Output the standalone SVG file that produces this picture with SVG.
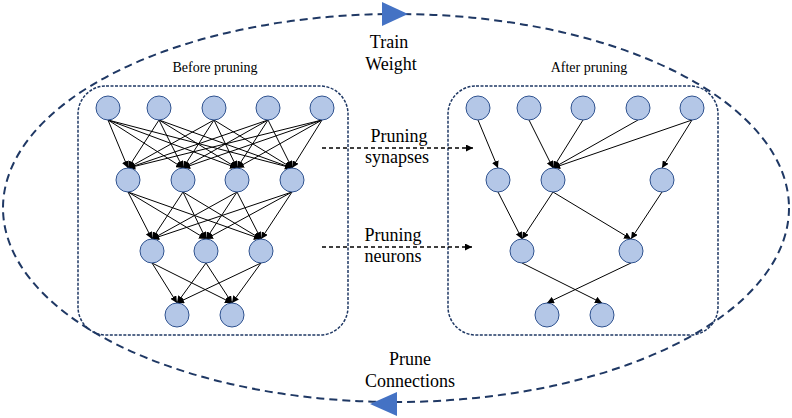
<svg xmlns="http://www.w3.org/2000/svg" width="792" height="418" viewBox="0 0 792 418">
  <style>
    .cycle { fill: none; stroke: #1F3864; stroke-width: 2; stroke-dasharray: 8 5; }
    .box { fill: none; stroke: #1F3864; stroke-width: 1.5; stroke-dasharray: 3 1.5; }
    .node { fill: #B4C7E7; stroke: #2F528F; stroke-width: 1; }
    .edge { stroke: #000; stroke-width: 1; marker-end: url(#arrow); }
    .step { stroke: #000; stroke-width: 1.3; stroke-dasharray: 4 3; marker-end: url(#arrow); }
    .head { fill: #4472C4; }
    text { font-family: "Liberation Serif", "Times New Roman", serif; fill: #000; text-anchor: middle; }
    .big { font-size: 18px; }
    .small { font-size: 14px; }
  </style>
  <defs>
    <marker id="arrow" viewBox="0 0 10 10" refX="10" refY="5" markerWidth="7" markerHeight="7" markerUnits="userSpaceOnUse" orient="auto">
      <path d="M0,0 L10,5 L0,10 z" fill="#000"/>
    </marker>
  </defs>
  <rect width="792" height="418" fill="#fff"/>

  <!-- train / prune cycle -->
  <g id="cycle">
    <ellipse class="cycle" cx="396" cy="208" rx="393" ry="194"/>
    <polygon class="head" points="382,2 408,14 382,26"/>
    <polygon class="head" points="397,392 370,404 397,416"/>
  </g>

  <g id="label-train">
    <text class="big" x="389" y="48">Train</text>
    <text class="big" x="391" y="70">Weight</text>
  </g>
  <g id="label-prune">
    <text class="big" x="410" y="365">Prune</text>
    <text class="big" x="410" y="387">Connections</text>
  </g>

  <!-- network frames -->
  <g id="before">
    <rect class="box" x="78" y="86" width="270" height="249" rx="28"/>
    <text class="small" x="215" y="72">Before pruning</text>
  </g>
  <g id="after">
    <rect class="box" x="448" y="86" width="270" height="249" rx="28"/>
    <text class="small" x="589" y="72">After pruning</text>
  </g>

  <!-- connectors -->
  <g id="connectors">
    <!-- dense network: layer 1 -> layer 2 -->
    <line class="edge" x1="108" y1="120" x2="128" y2="168"/>
    <line class="edge" x1="108" y1="120" x2="183" y2="168"/>
    <line class="edge" x1="108" y1="120" x2="237" y2="168"/>
    <line class="edge" x1="108" y1="120" x2="292" y2="168"/>
    <line class="edge" x1="159" y1="120" x2="128" y2="168"/>
    <line class="edge" x1="159" y1="120" x2="183" y2="168"/>
    <line class="edge" x1="159" y1="120" x2="237" y2="168"/>
    <line class="edge" x1="159" y1="120" x2="292" y2="168"/>
    <line class="edge" x1="214" y1="120" x2="128" y2="168"/>
    <line class="edge" x1="214" y1="120" x2="183" y2="168"/>
    <line class="edge" x1="214" y1="120" x2="237" y2="168"/>
    <line class="edge" x1="214" y1="120" x2="292" y2="168"/>
    <line class="edge" x1="268" y1="120" x2="128" y2="168"/>
    <line class="edge" x1="268" y1="120" x2="183" y2="168"/>
    <line class="edge" x1="268" y1="120" x2="237" y2="168"/>
    <line class="edge" x1="268" y1="120" x2="292" y2="168"/>
    <line class="edge" x1="322" y1="120" x2="128" y2="168"/>
    <line class="edge" x1="322" y1="120" x2="183" y2="168"/>
    <line class="edge" x1="322" y1="120" x2="237" y2="168"/>
    <line class="edge" x1="322" y1="120" x2="292" y2="168"/>
    <!-- dense network: layer 2 -> layer 3 -->
    <line class="edge" x1="128" y1="192" x2="152" y2="239"/>
    <line class="edge" x1="128" y1="192" x2="206" y2="239"/>
    <line class="edge" x1="128" y1="192" x2="261" y2="239"/>
    <line class="edge" x1="183" y1="192" x2="152" y2="239"/>
    <line class="edge" x1="183" y1="192" x2="206" y2="239"/>
    <line class="edge" x1="183" y1="192" x2="261" y2="239"/>
    <line class="edge" x1="237" y1="192" x2="152" y2="239"/>
    <line class="edge" x1="237" y1="192" x2="206" y2="239"/>
    <line class="edge" x1="237" y1="192" x2="261" y2="239"/>
    <line class="edge" x1="292" y1="192" x2="152" y2="239"/>
    <line class="edge" x1="292" y1="192" x2="206" y2="239"/>
    <line class="edge" x1="292" y1="192" x2="261" y2="239"/>
    <!-- dense network: layer 3 -> layer 4 -->
    <line class="edge" x1="152" y1="263" x2="177" y2="303"/>
    <line class="edge" x1="152" y1="263" x2="232" y2="303"/>
    <line class="edge" x1="206" y1="263" x2="177" y2="303"/>
    <line class="edge" x1="206" y1="263" x2="232" y2="303"/>
    <line class="edge" x1="261" y1="263" x2="177" y2="303"/>
    <line class="edge" x1="261" y1="263" x2="232" y2="303"/>

    <!-- pruned network -->
    <line class="edge" x1="478" y1="120" x2="498" y2="168"/>
    <line class="edge" x1="529" y1="120" x2="553" y2="168"/>
    <line class="edge" x1="583" y1="120" x2="553" y2="168"/>
    <line class="edge" x1="638" y1="120" x2="553" y2="168"/>
    <line class="edge" x1="692" y1="120" x2="553" y2="168"/>
    <line class="edge" x1="692" y1="120" x2="662" y2="168"/>
    <line class="edge" x1="498" y1="192" x2="522" y2="239"/>
    <line class="edge" x1="553" y1="192" x2="522" y2="239"/>
    <line class="edge" x1="553" y1="192" x2="631" y2="239"/>
    <line class="edge" x1="662" y1="192" x2="631" y2="239"/>
    <line class="edge" x1="522" y1="263" x2="602" y2="303"/>
    <line class="edge" x1="631" y1="263" x2="547" y2="303"/>

    <!-- pruning steps -->
    <line class="step" x1="322" y1="148" x2="473" y2="148"/>
    <line class="step" x1="322" y1="247" x2="472" y2="247"/>
  </g>

  <g id="label-synapses">
    <text class="big" x="399" y="142">Pruning</text>
    <text class="big" x="397" y="163">synapses</text>
  </g>
  <g id="label-neurons">
    <text class="big" x="393" y="241">Pruning</text>
    <text class="big" x="393" y="262">neurons</text>
  </g>

  <!-- dense network neurons -->
  <g id="dense-neurons">
    <circle id="b1" class="node" cx="108" cy="108" r="12"/>
    <circle id="b2" class="node" cx="159" cy="108" r="12"/>
    <circle id="b3" class="node" cx="214" cy="108" r="12"/>
    <circle id="b4" class="node" cx="268" cy="108" r="12"/>
    <circle id="b5" class="node" cx="322" cy="108" r="12"/>
    <circle id="b6" class="node" cx="128" cy="180" r="12"/>
    <circle id="b7" class="node" cx="183" cy="180" r="12"/>
    <circle id="b8" class="node" cx="237" cy="180" r="12"/>
    <circle id="b9" class="node" cx="292" cy="180" r="12"/>
    <circle id="b10" class="node" cx="152" cy="251" r="12"/>
    <circle id="b11" class="node" cx="206" cy="251" r="12"/>
    <circle id="b12" class="node" cx="261" cy="251" r="12"/>
    <circle id="b13" class="node" cx="177" cy="315" r="12"/>
    <circle id="b14" class="node" cx="232" cy="315" r="12"/>
  </g>

  <!-- pruned network neurons -->
  <g id="pruned-neurons">
    <circle id="a1" class="node" cx="478" cy="108" r="12"/>
    <circle id="a2" class="node" cx="529" cy="108" r="12"/>
    <circle id="a3" class="node" cx="583" cy="108" r="12"/>
    <circle id="a4" class="node" cx="638" cy="108" r="12"/>
    <circle id="a5" class="node" cx="692" cy="108" r="12"/>
    <circle id="a6" class="node" cx="498" cy="180" r="12"/>
    <circle id="a7" class="node" cx="553" cy="180" r="12"/>
    <circle id="a8" class="node" cx="662" cy="180" r="12"/>
    <circle id="a9" class="node" cx="522" cy="251" r="12"/>
    <circle id="a10" class="node" cx="631" cy="251" r="12"/>
    <circle id="a11" class="node" cx="547" cy="315" r="12"/>
    <circle id="a12" class="node" cx="602" cy="315" r="12"/>
  </g>
</svg>
